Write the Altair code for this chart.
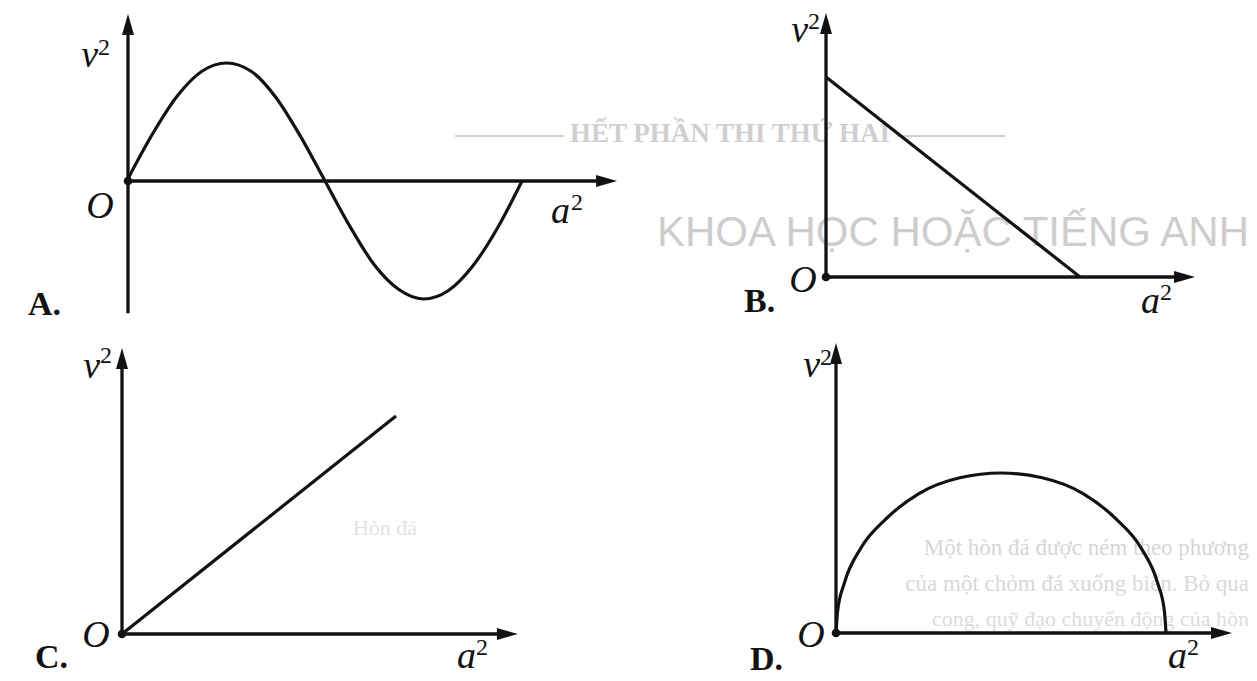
import altair as alt
import pandas as pd

# ---------------- data (in each graph's own units) ----------------
# A: one full wave, v^2 against a^2
A_a = [0.0, 0.25, 0.5, 0.75, 1.0, 1.25, 1.5, 1.75, 2.0, 2.25, 2.5, 2.75, 3.0, 3.25, 3.5, 3.75, 4.0]
A_v = [0.02, 0.40, 0.72, 0.93, 1.0, 0.93, 0.71, 0.38, 0.0, -0.38, -0.71, -0.92, -1.0, -0.93, -0.72, -0.40, 0.0]
# B: falling straight line
B_a = [0.0, 1.0]
B_v = [1.0, 0.0]
# C: rising straight line through O
C_a = [0.0, 1.0]
C_v = [0.0, 1.0]
# D: half-ellipse arc
D_a = [0.0, 0.01, 0.05, 0.15, 0.3, 0.5, 0.75, 1.0, 1.25, 1.5, 1.7, 1.85, 1.95, 1.99, 2.0]
D_v = [0.0, 0.14, 0.31, 0.53, 0.71, 0.87, 0.97, 1.0, 0.97, 0.87, 0.71, 0.53, 0.31, 0.14, 0.0]

# axis extents (x-arrow tip, y-arrow tip, bottom of y-axis), same units
A_axes = [4.965, 1.415, -1.12]
B_axes = [1.453, 1.32, 0.0]
C_axes = [1.445, 1.312, 0.0]
D_axes = [2.40, 1.8125, 0.0]

# ---------------- styling ----------------
INK = "#121212"
SERIF = "Liberation Serif"
HEAD = 21
UP = "M0,0L0.6,2.1L-0.6,2.1Z"
RIGHT = "M0,0L-2.1,-0.6L-2.1,0.6Z"
STYLES = {
    "it": dict(font=SERIF, fontSize=38, fontStyle="italic", color=INK),
    "sup": dict(font=SERIF, fontSize=24, color=INK),
    "bold": dict(font=SERIF, fontSize=34, fontWeight="bold", color=INK),
}

# frame: origin inside the cell (px), px per unit (x, y), cell width, height
A_frame = (120, 173, 98.5, 118, 620, 330)
B_frame = (198, 269, 254, 200, 621, 330)
C_frame = (114, 296, 274, 218, 620, 335)
D_frame = (208, 295, 165, 160, 621, 335)

A_labels = [("yt", "v", -30, 53, "right", "it"), ("yt", "2", -30, 41, "left", "sup"),
            ("o", "O", -28, 37, "center", "it"), ("xt", "a", -47, 42, "right", "it"),
            ("xt", "2", -46, 29, "left", "sup"), ("o", "A.", -100, 134, "left", "bold")]
B_labels = [("yt", "v", -18, 29, "right", "it"), ("yt", "2", -18, 16, "left", "sup"),
            ("o", "O", -23, 15, "center", "it"), ("xt", "a", -35, 36, "right", "it"),
            ("xt", "2", -35, 23, "left", "sup"), ("o", "B.", -82, 35, "left", "bold")]
C_labels = [("yt", "v", -22, 30, "right", "it"), ("yt", "2", -22, 15, "left", "sup"),
            ("o", "O", -26, 13, "center", "it"), ("xt", "a", -42, 34, "right", "it"),
            ("xt", "2", -42, 21, "left", "sup"), ("o", "C.", -87, 34, "left", "bold")]
D_labels = [("yt", "v", -16, 34, "right", "it"), ("yt", "2", -16, 22, "left", "sup"),
            ("o", "O", -25, 14, "center", "it"), ("xt", "a", -45, 35, "right", "it"),
            ("xt", "2", -45, 22, "left", "sup"), ("o", "D.", -86, 37, "left", "bold")]

# faint show-through text of the scanned page
B_ghost = [("———— HẾT PHẦN THI THỨ HAI ————", -96, -135, "center", 27, "#cfcfcf", SERIF, "bold"),
           ("KHOA HỌC HOẶC TIẾNG ANH", 423, -31, "right", 42, "#cdcdcd", "Liberation Sans", "normal")]
C_ghost = [("Hòn đá", 263, -99, "center", 22, "#e2e2e2", SERIF, "normal")]
D_ghost = [("Một hòn đá được ném theo phương", 413, -78, "right", 23, "#d6d6d6", SERIF, "normal"),
           ("của một chỏm đá xuống biển. Bỏ qua", 413, -42, "right", 23, "#d9d9d9", SERIF, "normal"),
           ("cong, quỹ đạo chuyển động của hòn", 413, -7, "right", 22, "#dcdcdc", SERIF, "normal")]


def panel(curve_a, curve_v, axes, frame, labels, ghosts=()):
    ox, oy, sx, sy, w, h = frame
    xtip, ytip, ybot = axes
    xs = alt.Scale(domain=[-ox / sx, (w - ox) / sx], nice=False, zero=False)
    ys = alt.Scale(domain=[(oy - h) / sy, oy / sy], nice=False, zero=False)
    X = alt.X("x:Q", scale=xs, axis=None)
    Y = alt.Y("y:Q", scale=ys, axis=None)
    layers = []
    origin = pd.DataFrame({"x": [0.0], "y": [0.0]})
    for txt, dx, dy, align, size, col, font, weight in ghosts:
        layers.append(alt.Chart(origin.assign(t=txt)).mark_text(
            align=align, baseline="alphabetic", dx=dx, dy=dy, fontSize=size,
            color=col, font=font, fontWeight=weight).encode(x=X, y=Y, text="t:N"))
    curve = pd.DataFrame({"x": curve_a, "y": curve_v, "i": range(len(curve_a))})
    layers.append(alt.Chart(curve).mark_line(
        color=INK, strokeWidth=3.2, interpolate="monotone").encode(x=X, y=Y, order="i:Q"))
    seg = pd.DataFrame({"x": [0.0, 0.0], "y": [ybot, 0.0],
                        "x2": [0.0, xtip - 0.8 * HEAD / sx],
                        "y2": [ytip - 0.8 * HEAD / sy, 0.0]})
    layers.append(alt.Chart(seg).mark_rule(color=INK, strokeWidth=3.3).encode(
        x=X, y=Y, x2="x2:Q", y2="y2:Q"))
    layers.append(alt.Chart(pd.DataFrame({"x": [0.0], "y": [ytip]})).mark_point(
        shape=UP, size=400, filled=True, color=INK, opacity=1, strokeWidth=0).encode(x=X, y=Y))
    layers.append(alt.Chart(pd.DataFrame({"x": [xtip], "y": [0.0]})).mark_point(
        shape=RIGHT, size=400, filled=True, color=INK, opacity=1, strokeWidth=0).encode(x=X, y=Y))
    layers.append(alt.Chart(origin).mark_circle(size=75, color=INK, opacity=1).encode(x=X, y=Y))
    anchors = {"o": (0.0, 0.0), "xt": (xtip, 0.0), "yt": (0.0, ytip)}
    for anc, txt, dx, dy, align, kind in labels:
        ax, ay = anchors[anc]
        layers.append(alt.Chart(pd.DataFrame({"x": [ax], "y": [ay], "t": [txt]})).mark_text(
            align=align, baseline="alphabetic", dx=dx, dy=dy, **STYLES[kind]).encode(
            x=X, y=Y, text="t:N"))
    return alt.layer(*layers).properties(width=w, height=h)


pA = panel(A_a, A_v, A_axes, A_frame, A_labels)
pB = panel(B_a, B_v, B_axes, B_frame, B_labels, B_ghost)
pC = panel(C_a, C_v, C_axes, C_frame, C_labels, C_ghost)
pD = panel(D_a, D_v, D_axes, D_frame, D_labels, D_ghost)

chart = alt.concat(pA, pB, pC, pD, columns=2, spacing=0, bounds="flush").properties(
    padding=0, background="white"
).configure_view(strokeWidth=0)

chart.save("out.html", embed_options={"renderer": "svg", "actions": False})
